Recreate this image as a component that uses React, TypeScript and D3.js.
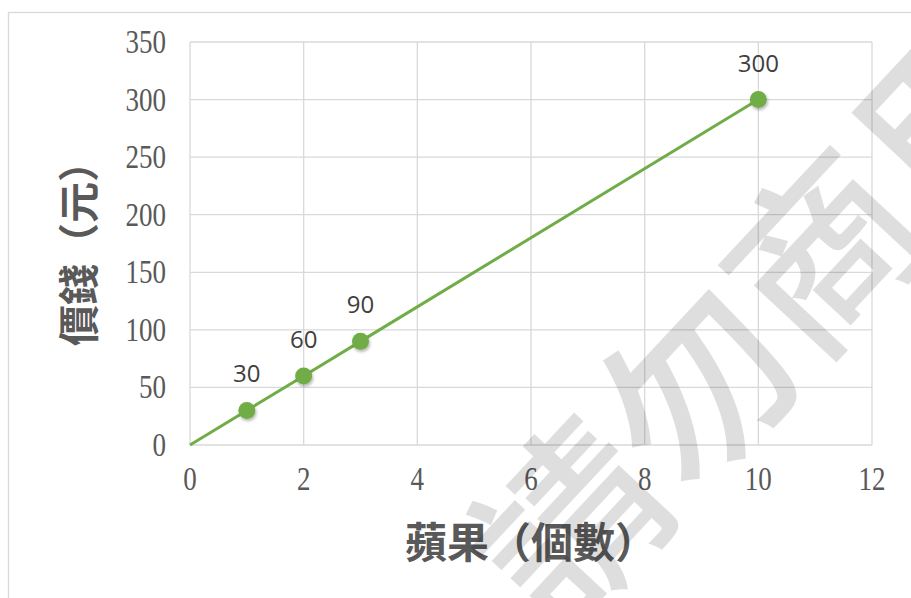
import React from 'react';
import * as d3 from 'd3';

// data
const xs = [0, 1, 2, 3, 10];
const ys = [0, 30, 60, 90, 300];
const showMarker = [false, true, true, true, true];
const xTicks = [0, 2, 4, 6, 8, 10, 12];
const yTicks = [0, 50, 100, 150, 200, 250, 300, 350];
const xTitle = '蘋果（個數）';
const yTitle = '價錢（元）';
const watermark = '請勿商用';

const W = 911;
const H = 598;
const PLOT = { left: 190, right: 872, top: 42, bottom: 445 };

const GRID = '#d9d9d9';
const TEXT = '#595959';
const GREEN = '#70ad47';

const App: React.FC = () => {
  const x = d3.scaleLinear().domain([0, 12]).range([PLOT.left, PLOT.right]);
  const y = d3.scaleLinear().domain([0, 350]).range([PLOT.bottom, PLOT.top]);

  const points = xs.map((v, i) => ({ x: v, y: ys[i], marker: showMarker[i] }));
  const line = d3.line<{ x: number; y: number }>()
    .x(d => x(d.x))
    .y(d => y(d.y));

  const serif = '"Liberation Serif", "DejaVu Serif", serif';
  const cjk = '"Noto Sans CJK TC", "Noto Sans CJK SC", sans-serif';

  return (
    <svg
      width={W}
      height={H}
      style={{ position: 'absolute', left: 0, top: 0, background: '#fff' }}
    >
      <defs>
        <filter id="shadow" x="-50%" y="-50%" width="200%" height="200%">
          <feDropShadow dx="1" dy="2" stdDeviation="1.5" floodColor="#000" floodOpacity="0.3" />
        </filter>
      </defs>

      {/* chart border */}
      <rect x={8.5} y={12.5} width={1000} height={1000} fill="#fff" stroke={GRID} strokeWidth={1.3} />

      {/* grid */}
      {yTicks.map(t => (
        <line key={'gy' + t} x1={PLOT.left} x2={PLOT.right} y1={y(t)} y2={y(t)} stroke={GRID} strokeWidth={1.3} />
      ))}
      {xTicks.map(t => (
        <line key={'gx' + t} x1={x(t)} x2={x(t)} y1={PLOT.top} y2={PLOT.bottom} stroke={GRID} strokeWidth={1.3} />
      ))}

      {/* tick labels */}
      {yTicks.map(t => (
        <text
          key={'ty' + t}
          transform={`translate(166,${y(t)}) scale(0.82,1)`}
          textAnchor="end"
          dominantBaseline="central"
          fontFamily={serif}
          fontSize={33}
          fill={TEXT}
        >
          {t}
        </text>
      ))}
      {xTicks.map(t => (
        <text
          key={'tx' + t}
          transform={`translate(${x(t)},490) scale(0.82,1)`}
          textAnchor="middle"
          fontFamily={serif}
          fontSize={33}
          fill={TEXT}
        >
          {t}
        </text>
      ))}

      {/* axis titles */}
      <text
        x={(PLOT.left + PLOT.right) / 2}
        y={558}
        textAnchor="middle"
        fontFamily={cjk}
        fontWeight={700}
        fontSize={42}
        fill={TEXT}
      >
        {xTitle}
      </text>
      <text
        transform={`translate(94,${(PLOT.top + PLOT.bottom) / 2}) rotate(-90)`}
        textAnchor="middle"
        fontFamily={cjk}
        fontWeight={700}
        fontSize={41}
        fill={TEXT}
      >
        {yTitle}
      </text>

      {/* series */}
      <path d={line(points) || ''} fill="none" stroke={GREEN} strokeWidth={3} />
      {points.filter(p => p.marker).map(p => (
        <g key={'p' + p.x}>
          <circle cx={x(p.x)} cy={y(p.y)} r={8.5} fill={GREEN} filter="url(#shadow)" />
          <text
            x={x(p.x)}
            y={y(p.y) - 28}
            textAnchor="middle"
            fontFamily='"Open Sans", "Noto Sans", sans-serif'
            fontSize={24}
            fill="#404040"
          >
            {p.y}
          </text>
        </g>
      ))}

      {/* watermark */}
      <text
        transform="translate(752,312) rotate(-47)"
        textAnchor="middle"
        dominantBaseline="central"
        fontFamily={cjk}
        fontWeight={500}
        fontSize={186}
        fill="#000"
        fillOpacity={0.13}
      >
        {watermark}
      </text>
    </svg>
  );
};

export default App;
